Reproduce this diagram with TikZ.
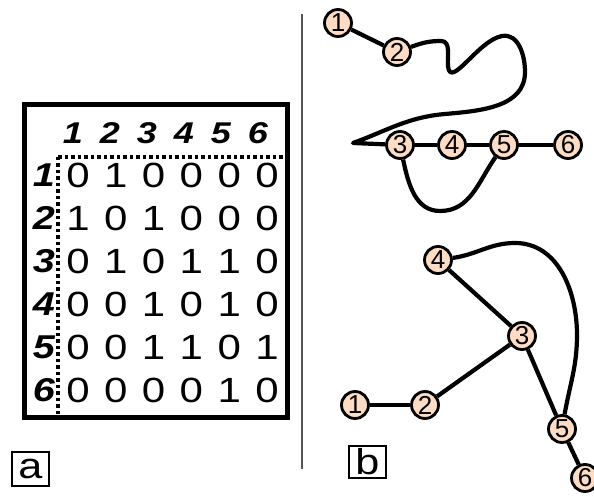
\documentclass[tikz,border=0pt]{standalone}
\usepackage{fontspec}
\setmainfont{Liberation Sans}
\definecolor{peach}{HTML}{FDDCC5}
\definecolor{sepgray}{HTML}{555555}
\newcommand{\widen}[1]{\scalebox{1.2}[1]{#1}}
\tikzset{
  vert/.style={circle,draw,line width=2.8pt,fill=peach,inner sep=0pt,
    minimum size=27pt,font=\fontsize{26}{26}\selectfont},
  edge/.style={line width=4.2pt},
  entry/.style={font=\fontsize{35}{35}\selectfont},
  head/.style={font=\fontsize{30}{30}\selectfont\bfseries\itshape},
  rowhead/.style={font=\fontsize{33}{33}\selectfont\bfseries\itshape},
  tag/.style={draw,line width=2.8pt,inner sep=0pt,minimum width=37pt,
    font=\fontsize{36}{36}\selectfont}
}

\begin{document}
\begin{tikzpicture}[x=1pt,y=-1pt]
  \useasboundingbox (0,0) rectangle (594,497);
  \draw[line width=5pt]
    (24, 105) rectangle (287, 417);
  \draw[line width=3.5pt,dash pattern=on 3.5pt off 3pt]
    (58, 157) -- (285, 157);
  \draw[line width=3.5pt,dash pattern=on 3.5pt off 3pt]
    (58, 157) -- (58, 415);
  \foreach \j in {1,...,6}
    \node[head] (h\j) at ({73+37*(\j-1)}, 133) {\widen{\j}};
  \foreach \row [count=\i] in {{0,1,0,0,0,0},{1,0,1,0,0,0},{0,1,0,1,1,0},
      {0,0,1,0,1,0},{0,0,1,1,0,1},{0,0,0,0,1,0}} {
    \node[rowhead] (r\i) at (44, {175+43*(\i-1)}) {\widen{\i}};
    \foreach \v [count=\j] in \row
      \node[entry] (m\i\j) at ({78+37.8*(\j-1)}, {175+43*(\i-1)}) {\widen{\v}};
  }
  \node[tag,minimum height=34pt] (taga) at (30.5, 469) {\widen{a}};
  \draw[sepgray,line width=1.2pt]
    (302, 14) -- (302, 469);
  \node[tag,minimum height=32pt] (tagb) at (367.5, 462) {\widen{b}};

  \node[vert] (t1) at (338, 23) {1};
  \node[vert] (t2) at (397, 52) {2};
  \node[vert] (t3) at (400, 145) {3};
  \node[vert] (t4) at (452, 145) {4};
  \node[vert] (t5) at (504, 145) {5};
  \node[vert] (t6) at (568, 145) {6};
  \coordinate (w1) at (441, 41);
  \coordinate (w2) at (448, 66);
  \coordinate (w3) at (502, 36);
  \coordinate (w4) at (525, 72);
  \coordinate (w5) at (445, 114);
  \coordinate (tip) at (353, 143);
  \coordinate (low) at (440, 211);
  \draw[edge] (t1) -- (t2);
  \draw[edge,line join=round]
    (t2) to[out=20,in=180] (w1) to[out=0,in=95] (w2)
    to[out=-85,in=190] (w3) to[out=10,in=90] (w4)
    to[out=-90,in=5] (w5) to[out=185,in=20] (tip) -- (t3);
  \draw[edge] (t3) -- (t4);
  \draw[edge] (t4) -- (t5);
  \draw[edge] (t5) -- (t6);
  \draw[edge] (t3) to[out=-78,in=180] (low) to[out=0,in=-125] (t5);

  \node[vert] (b4) at (438, 260) {4};
  \node[vert] (b3) at (522, 336) {3};
  \node[vert] (b1) at (355, 405) {1};
  \node[vert] (b2) at (425, 405) {2};
  \node[vert] (b5) at (562, 429) {5};
  \node[vert] (b6) at (585, 478) {6};
  \coordinate (arc1) at (515, 243);
  \coordinate (arc2) at (577, 335);
  \draw[edge] (b1) -- (b2);
  \draw[edge] (b2) -- (b3);
  \draw[edge] (b3) -- (b4);
  \draw[edge] (b3) -- (b5);
  \draw[edge] (b5) -- (b6);
  \draw[edge] (b4) to[out=8,in=180] (arc1) to[out=0,in=90] (arc2)
    to[out=-90,in=80] (b5);
\end{tikzpicture}
\end{document}
